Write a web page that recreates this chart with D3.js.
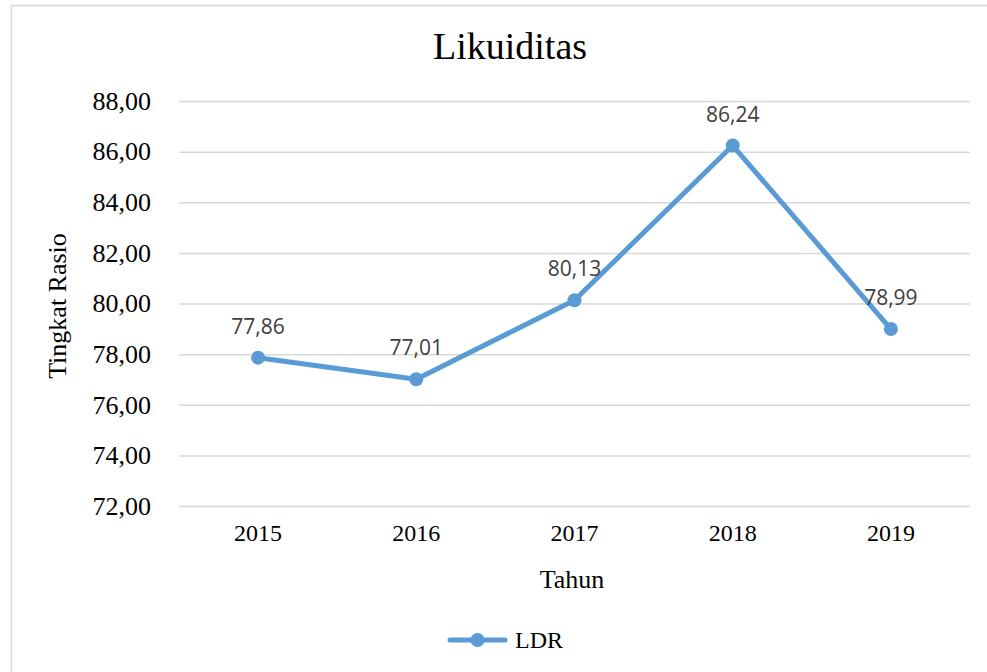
<!DOCTYPE html>
<html>
<head>
<meta charset="utf-8">
<script src="https://cdn.jsdelivr.net/npm/d3@7"></script>
<style>
  body { margin: 0; background: #fff; }
</style>
</head>
<body>
<div id="chart"></div>
<script>
"use strict";

// values
var years = ["2015", "2016", "2017", "2018", "2019"];
var ldr = [77.86, 77.01, 80.13, 86.24, 78.99];
var yTicks = [72, 74, 76, 78, 80, 82, 84, 86, 88];

var W = 987, H = 672;
var margin = {top: 101, right: 17, bottom: 166, left: 179};
var width = W - margin.left - margin.right;
var height = H - margin.top - margin.bottom;
var serif = "Liberation Serif, Times New Roman, serif";

var fmt = function(v) { return d3.format(".2f")(v).replace(".", ","); };

var svg = d3.select("#chart").append("svg")
    .attr("width", W)
    .attr("height", H);

// outer chart border
svg.append("rect")
    .attr("x", 11.5).attr("y", 5.5)
    .attr("width", W).attr("height", H)
    .attr("fill", "none")
    .attr("stroke", "#d9d9d9")
    .attr("stroke-width", 1.5);

var g = svg.append("g")
    .attr("transform", "translate(" + margin.left + "," + margin.top + ")");

var x = d3.scaleBand().domain(years).range([0, width]);
var y = d3.scaleLinear().domain([72, 88]).range([height, 0]);

// gridlines
g.append("g")
    .selectAll("line")
    .data(yTicks)
    .join("line")
    .attr("x1", 0).attr("x2", width)
    .attr("y1", function(d) { return y(d) + 0.5; })
    .attr("y2", function(d) { return y(d) + 0.5; })
    .attr("stroke", "#d9d9d9")
    .attr("stroke-width", 1.5);

// y axis labels
var yAxis = g.append("g")
    .call(d3.axisLeft(y).tickValues(yTicks).tickFormat(fmt).tickSize(0).tickPadding(28));
yAxis.select(".domain").remove();
yAxis.selectAll("text")
    .attr("font-family", serif)
    .attr("font-size", 26)
    .attr("fill", "#000");

// x axis labels
var xAxis = g.append("g")
    .attr("transform", "translate(0," + height + ")")
    .call(d3.axisBottom(x).tickSize(0).tickPadding(18));
xAxis.select(".domain").remove();
xAxis.selectAll("text")
    .attr("font-family", serif)
    .attr("font-size", 24)
    .attr("fill", "#000");

var cx = function(d, i) { return x(years[i]) + x.bandwidth() / 2; };

// line
var line = d3.line()
    .x(function(d, i) { return cx(d, i); })
    .y(function(d) { return y(d); });

g.append("path")
    .datum(ldr)
    .attr("fill", "none")
    .attr("stroke", "#5b9bd5")
    .attr("stroke-width", 5)
    .attr("stroke-linejoin", "round")
    .attr("d", line);

g.selectAll(".dot")
    .data(ldr)
    .join("circle")
    .attr("class", "dot")
    .attr("cx", cx)
    .attr("cy", function(d) { return y(d); })
    .attr("r", 7)
    .attr("fill", "#5b9bd5");

// data labels
g.selectAll(".lbl")
    .data(ldr)
    .join("text")
    .attr("class", "lbl")
    .attr("x", cx)
    .attr("y", function(d) { return y(d) - 24; })
    .attr("text-anchor", "middle")
    .attr("font-family", "Open Sans, Liberation Sans, sans-serif")
    .attr("font-size", 21)
    .attr("fill", "#404040")
    .text(fmt);

// title
svg.append("text")
    .attr("x", 510).attr("y", 59)
    .attr("text-anchor", "middle")
    .attr("font-family", serif)
    .attr("font-size", 38)
    .attr("fill", "#000")
    .text("Likuiditas");

// axis titles
svg.append("text")
    .attr("x", 572).attr("y", 588)
    .attr("text-anchor", "middle")
    .attr("font-family", serif)
    .attr("font-size", 26)
    .attr("fill", "#000")
    .text("Tahun");

svg.append("text")
    .attr("transform", "translate(66,306) rotate(-90)")
    .attr("text-anchor", "middle")
    .attr("font-family", serif)
    .attr("font-size", 26)
    .attr("fill", "#000")
    .text("Tingkat Rasio");

// legend
var lg = svg.append("g").attr("transform", "translate(450,640)");
lg.append("line")
    .attr("x1", 0).attr("x2", 55)
    .attr("stroke", "#5b9bd5")
    .attr("stroke-width", 5)
    .attr("stroke-linecap", "round");
lg.append("circle").attr("cx", 27.5).attr("r", 7).attr("fill", "#5b9bd5");
lg.append("text")
    .attr("x", 65).attr("y", 8)
    .attr("font-family", serif)
    .attr("font-size", 24)
    .attr("fill", "#000")
    .text("LDR");
</script>
</body>
</html>
